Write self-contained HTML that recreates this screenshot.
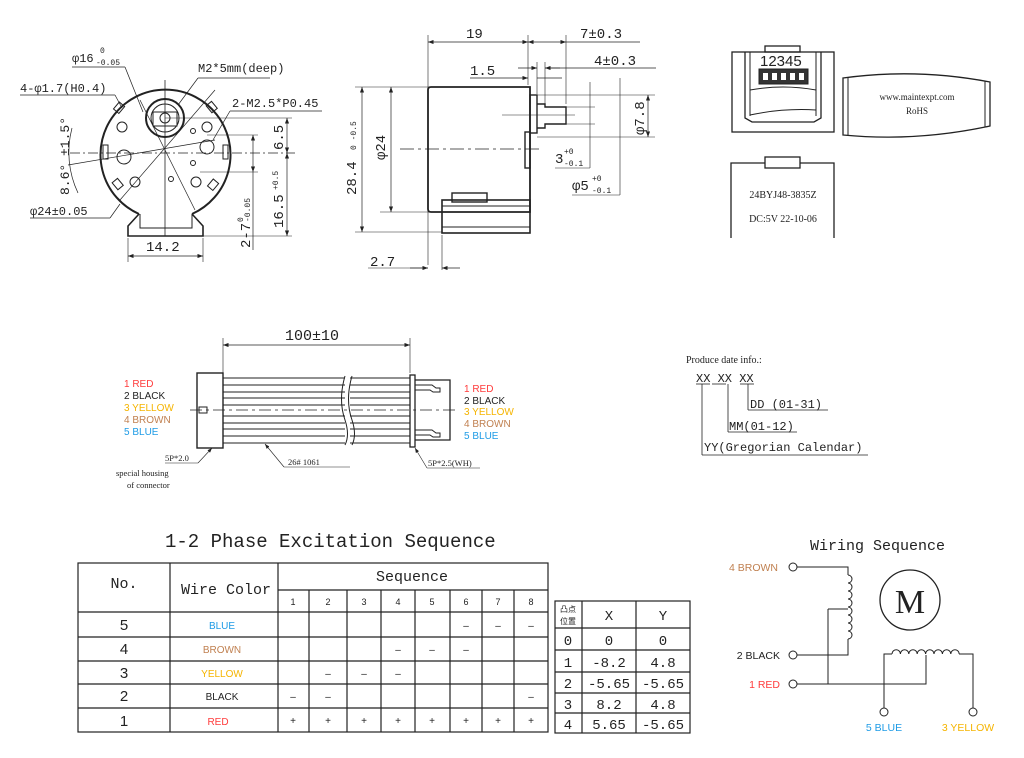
<!DOCTYPE html>
<html><head><meta charset="utf-8"><style>
html,body{margin:0;padding:0;background:#fff;}
svg{display:block;}
text{font-family:"Liberation Sans",sans-serif;fill:#222;}
.m, .m text{font-family:"Liberation Mono",monospace;}
.s, .s text{font-family:"Liberation Serif",serif;}
</style></head><body>
<svg width="1024" height="758" viewBox="0 0 1024 758" xmlns="http://www.w3.org/2000/svg">
<defs>
<marker id="a" markerWidth="8" markerHeight="6" refX="8" refY="3" orient="auto-start-reverse"><path d="M0,0 L8,3 L0,6z" fill="#222"/></marker>
</defs>
<g stroke="#222" fill="none" stroke-width="1">
<!-- FRONT VIEW -->
<path d="M139,214 A65,65 0 1 1 192,214" stroke-width="2"/>
<path d="M139,214 L128,226 L128,236 L203,236 L203,226 L192,214" stroke-width="1.6"/>
<path d="M140,214 L140,228 L192,228 L192,214"/>
<circle cx="165" cy="118" r="19" stroke-width="2"/>
<circle cx="165" cy="118" r="14"/>
<rect x="153" y="112" width="24" height="14"/>
<circle cx="165" cy="118" r="5"/>
<circle cx="122" cy="127" r="5"/><circle cx="207" cy="127" r="5"/>
<circle cx="207" cy="147" r="7"/><circle cx="124" cy="157" r="7"/>
<circle cx="135" cy="182" r="5"/><circle cx="196" cy="182" r="5"/>
<circle cx="193" cy="163" r="2.5"/><circle cx="171" cy="179" r="2.5"/><circle cx="193" cy="131" r="2.5"/>
<rect x="103" y="145" width="5" height="14"/><rect x="223" y="145" width="5" height="14"/>
<rect x="116" y="103" width="7" height="9" transform="rotate(40 119 107)"/>
<rect x="208" y="103" width="7" height="9" transform="rotate(-40 211 107)"/>
<rect x="114" y="180" width="7" height="9" transform="rotate(-40 117 184)"/>
<rect x="210" y="180" width="7" height="9" transform="rotate(40 213 184)"/>
<line x1="70" y1="153" x2="295" y2="153" stroke-dasharray="10,3,2,3" stroke-width="0.8"/>
<line x1="165" y1="80" x2="165" y2="236" stroke-width="0.8"/>
<line x1="140" y1="100" x2="195" y2="210" stroke-width="0.7"/>
<line x1="215" y1="90" x2="120" y2="200" stroke-width="0.7"/>
<line x1="68" y1="165" x2="215" y2="140" stroke-width="0.7"/>
<line x1="72" y1="67" x2="125" y2="67" stroke-width="0.7"/><line x1="125" y1="67" x2="143" y2="112" stroke-width="0.7"/>
<line x1="20" y1="95" x2="115" y2="95" stroke-width="0.7"/><line x1="115" y1="95" x2="122" y2="108" stroke-width="0.7"/>
<line x1="198" y1="78" x2="270" y2="78" stroke-width="0.7"/><line x1="198" y1="78" x2="178" y2="105" stroke-width="0.7"/>
<line x1="230" y1="111" x2="322" y2="111" stroke-width="0.7"/><line x1="230" y1="111" x2="213" y2="140" stroke-width="0.7"/>
<line x1="30" y1="218" x2="110" y2="218" stroke-width="0.7"/><line x1="110" y1="218" x2="120" y2="204" stroke-width="0.7"/>
<path d="M72,128 A95,95 0 0 0 78,193" stroke-width="0.7"/>
<line x1="165" y1="118" x2="292" y2="118" stroke-width="0.6"/>
<line x1="207" y1="135" x2="258" y2="135" stroke-width="0.6"/>
<line x1="200" y1="172" x2="258" y2="172" stroke-width="0.6"/>
<line x1="203" y1="236" x2="292" y2="236" stroke-width="0.6"/>
<line x1="287" y1="118" x2="287" y2="153" marker-start="url(#a)" marker-end="url(#a)" stroke-width="0.7"/>
<line x1="287" y1="153" x2="287" y2="236" marker-start="url(#a)" marker-end="url(#a)" stroke-width="0.7"/>
<line x1="253" y1="135" x2="253" y2="172" marker-start="url(#a)" marker-end="url(#a)" stroke-width="0.7"/>
<line x1="253" y1="172" x2="253" y2="250" stroke-width="0.7"/>
<line x1="128" y1="238" x2="128" y2="262" stroke-width="0.6"/><line x1="203" y1="238" x2="203" y2="262" stroke-width="0.6"/>
<line x1="128" y1="256" x2="203" y2="256" marker-start="url(#a)" marker-end="url(#a)" stroke-width="0.7"/>
<!-- SIDE VIEW -->
<path d="M428,90 Q428,87 431,87 L530,87 L530,212 L442,212 L431,212 Q428,212 428,209 Z" stroke-width="1.8"/>
<rect x="442" y="200" width="88" height="33" stroke-width="1.6"/>
<line x1="442" y1="206" x2="530" y2="206"/><line x1="442" y1="227" x2="530" y2="227"/>
<rect x="452" y="193" width="35" height="9" stroke-width="1.4"/>
<rect x="530" y="95" width="7" height="38" stroke-width="1.4"/>
<rect x="525" y="132" width="5" height="36" stroke-width="1.4"/>
<path d="M537,104 L545,104 L545,107 L566,107 L566,124 L545,124 L545,128 L537,128" stroke-width="1.4"/>
<line x1="400" y1="149" x2="540" y2="149" stroke-dasharray="14,4,3,4" stroke-width="0.8"/>
<line x1="502" y1="115" x2="575" y2="115" stroke-width="0.6"/>
<line x1="428" y1="35" x2="428" y2="265" stroke-width="0.6"/>
<line x1="528" y1="35" x2="528" y2="85" stroke-width="0.6"/>
<line x1="566" y1="35" x2="566" y2="104" stroke-width="0.6"/>
<line x1="537" y1="62" x2="537" y2="94" stroke-width="0.6"/>
<line x1="545" y1="62" x2="545" y2="104" stroke-width="0.6"/>
<line x1="428" y1="42" x2="528" y2="42" marker-start="url(#a)" marker-end="url(#a)" stroke-width="0.7"/>
<line x1="528" y1="42" x2="566" y2="42" marker-start="url(#a)" marker-end="url(#a)" stroke-width="0.7"/>
<line x1="566" y1="42" x2="640" y2="42" stroke-width="0.7"/>
<line x1="518" y1="68" x2="537" y2="68" marker-end="url(#a)" stroke-width="0.7"/>
<line x1="545" y1="68" x2="656" y2="68" stroke-width="0.7"/><line x1="560" y1="68" x2="545" y2="68" marker-end="url(#a)" stroke-width="0.7"/>
<line x1="470" y1="78" x2="528" y2="78" marker-end="url(#a)" stroke-width="0.7"/><line x1="537" y1="78" x2="562" y2="78" stroke-width="0.7"/>
<line x1="355" y1="87" x2="430" y2="87" stroke-width="0.6"/><line x1="355" y1="232" x2="442" y2="232" stroke-width="0.6"/>
<line x1="380" y1="212" x2="430" y2="212" stroke-width="0.6"/>
<line x1="362" y1="87" x2="362" y2="232" marker-start="url(#a)" marker-end="url(#a)" stroke-width="0.7"/>
<line x1="391" y1="87" x2="391" y2="212" marker-start="url(#a)" marker-end="url(#a)" stroke-width="0.7"/>
<line x1="537" y1="95" x2="655" y2="95" stroke-width="0.6"/><line x1="537" y1="137" x2="655" y2="137" stroke-width="0.6"/>
<line x1="566" y1="107" x2="595" y2="107" stroke-width="0.6"/><line x1="566" y1="124" x2="595" y2="124" stroke-width="0.6"/>
<line x1="648" y1="95" x2="648" y2="137" marker-start="url(#a)" marker-end="url(#a)" stroke-width="0.7"/>
<line x1="590" y1="82" x2="590" y2="168" stroke-width="0.6"/><line x1="620" y1="78" x2="620" y2="195" stroke-width="0.6"/>
<line x1="555" y1="168" x2="590" y2="168" stroke-width="0.6"/><line x1="572" y1="195" x2="620" y2="195" stroke-width="0.6"/>
<line x1="442" y1="235" x2="442" y2="270" stroke-width="0.6"/>
<line x1="410" y1="268" x2="428" y2="268" marker-end="url(#a)" stroke-width="0.7"/><line x1="460" y1="268" x2="442" y2="268" marker-end="url(#a)" stroke-width="0.7"/>
<line x1="368" y1="268" x2="428" y2="268" stroke-width="0.6"/>
<!-- CONNECTOR PICS -->
<rect x="732" y="52" width="102" height="80" stroke-width="1.3"/>
<rect x="765" y="46" width="35" height="6" stroke-width="1.3"/>
<path d="M745,52 L745,118 L752,122 L814,122 L821,118 L821,52" stroke-width="1.3"/>
<path d="M750,52 L750,116 M816,52 L816,116"/>
<rect x="759" y="69" width="49" height="15" fill="#333"/>
<g fill="#fff" stroke="none"><rect x="763" y="73" width="5" height="7"/><rect x="772" y="73" width="5" height="7"/><rect x="781" y="73" width="5" height="7"/><rect x="790" y="73" width="5" height="7"/><rect x="799" y="73" width="5" height="7"/></g>
<path d="M750,90 Q783,84 816,90 M750,115 Q783,108 816,110"/>
<path d="M843,78 Q916,68 990,82 L990,126 Q916,142 843,135 Z" stroke-width="1.3"/>
<line x1="848" y1="78" x2="848" y2="135"/><line x1="985" y1="81" x2="985" y2="127"/>
<path d="M731,238 L731,163 L765,163 M800,163 L834,163 L834,238" stroke-width="1.3"/>
<rect x="765" y="157" width="35" height="11" stroke-width="1.3"/>
<!-- CABLE -->
<rect x="197" y="373" width="26" height="75" stroke-width="1.4"/>
<rect x="199" y="407" width="8" height="6"/>
<g stroke-width="1.1">
<line x1="223" y1="378" x2="345" y2="378"/><line x1="223" y1="385" x2="345" y2="385"/><line x1="223" y1="392" x2="345" y2="392"/><line x1="223" y1="398" x2="345" y2="398"/><line x1="223" y1="405" x2="345" y2="405"/><line x1="223" y1="416" x2="345" y2="416"/><line x1="223" y1="423" x2="345" y2="423"/><line x1="223" y1="429" x2="345" y2="429"/><line x1="223" y1="436" x2="345" y2="436"/><line x1="223" y1="443" x2="345" y2="443"/>
<line x1="350" y1="378" x2="410" y2="378"/><line x1="350" y1="385" x2="410" y2="385"/><line x1="350" y1="392" x2="410" y2="392"/><line x1="350" y1="398" x2="410" y2="398"/><line x1="350" y1="405" x2="410" y2="405"/><line x1="350" y1="416" x2="410" y2="416"/><line x1="350" y1="423" x2="410" y2="423"/><line x1="350" y1="429" x2="410" y2="429"/><line x1="350" y1="436" x2="410" y2="436"/><line x1="350" y1="443" x2="410" y2="443"/>
</g>
<path d="M345,376 Q338,400 345,420 Q350,435 345,445 M352,376 Q345,400 352,420 Q357,435 352,445"/>
<line x1="190" y1="410" x2="455" y2="410" stroke-dasharray="12,4,3,4" stroke-width="0.8"/>
<rect x="410" y="375" width="5" height="72" stroke-width="1.3"/>
<path d="M415,380 L450,380 L450,440 L415,440" stroke-width="1.3"/>
<path d="M415,385 L432,385 L436,388 L440,388 L440,392 L433,392 L430,390 L415,390 M415,430 L432,430 L436,433 L440,433 L440,437 L433,437 L430,435 L415,435"/>
<line x1="223" y1="338" x2="223" y2="373" stroke-width="0.6"/><line x1="410" y1="338" x2="410" y2="373" stroke-width="0.6"/>
<line x1="223" y1="345" x2="410" y2="345" marker-start="url(#a)" marker-end="url(#a)" stroke-width="0.7"/>
<line x1="165" y1="463" x2="198" y2="463" stroke-width="0.6"/><line x1="198" y1="463" x2="212" y2="448" marker-end="url(#a)" stroke-width="0.6"/>
<line x1="284" y1="467" x2="350" y2="467" stroke-width="0.6"/><line x1="284" y1="467" x2="265" y2="444" marker-end="url(#a)" stroke-width="0.6"/>
<line x1="427" y1="468" x2="480" y2="468" stroke-width="0.6"/><line x1="427" y1="468" x2="415" y2="448" marker-end="url(#a)" stroke-width="0.6"/>
<!-- PRODUCE DATE -->
<line x1="696" y1="384" x2="710" y2="384" stroke-width="0.8"/><line x1="712" y1="384" x2="726" y2="384" stroke-width="0.8"/><line x1="740" y1="384" x2="754" y2="384" stroke-width="0.8"/>
<line x1="702" y1="384" x2="702" y2="455" stroke-width="0.8"/><line x1="702" y1="455" x2="868" y2="455" stroke-width="0.8"/>
<line x1="728" y1="384" x2="728" y2="432" stroke-width="0.8"/><line x1="728" y1="432" x2="797" y2="432" stroke-width="0.8"/>
<line x1="748" y1="384" x2="748" y2="410" stroke-width="0.8"/><line x1="748" y1="410" x2="828" y2="410" stroke-width="0.8"/>
<!-- MAIN TABLE -->
<g stroke-width="1.2">
<rect x="78" y="563" width="470" height="169"/>
<line x1="78" y1="612" x2="548" y2="612"/><line x1="78" y1="637" x2="548" y2="637"/><line x1="78" y1="661" x2="548" y2="661"/><line x1="78" y1="684" x2="548" y2="684"/><line x1="78" y1="708" x2="548" y2="708"/>
<line x1="278" y1="590" x2="548" y2="590"/>
<line x1="170" y1="563" x2="170" y2="732"/><line x1="278" y1="563" x2="278" y2="732"/>
<line x1="309" y1="590" x2="309" y2="732"/><line x1="347" y1="590" x2="347" y2="732"/><line x1="381" y1="590" x2="381" y2="732"/><line x1="415" y1="590" x2="415" y2="732"/><line x1="450" y1="590" x2="450" y2="732"/><line x1="482" y1="590" x2="482" y2="732"/><line x1="514" y1="590" x2="514" y2="732"/>
</g>
<!-- SMALL TABLE -->
<g stroke-width="1.2">
<rect x="555" y="601" width="135" height="132"/>
<line x1="555" y1="628" x2="690" y2="628"/><line x1="555" y1="650" x2="690" y2="650"/><line x1="555" y1="672" x2="690" y2="672"/><line x1="555" y1="693" x2="690" y2="693"/><line x1="555" y1="713" x2="690" y2="713"/>
<line x1="582" y1="601" x2="582" y2="733"/><line x1="636" y1="601" x2="636" y2="733"/>
</g>
<!-- WIRING -->
<g stroke-width="1">
<circle cx="793" cy="567" r="4"/><circle cx="793" cy="655" r="4"/><circle cx="793" cy="684" r="4"/>
<circle cx="884" cy="712" r="4"/><circle cx="973" cy="712" r="4"/>
<path d="M797,567 L848,567 L848,575"/>
<path d="M848,575 a4,4 0 0 1 0,8 a4,4 0 0 1 0,8 a4,4 0 0 1 0,8 a4,4 0 0 1 0,8 a4,4 0 0 1 0,8 a4,4 0 0 1 0,8 a4,4 0 0 1 0,8 a4,4 0 0 1 0,8"/>
<path d="M848,639 L848,655 L797,655"/>
<path d="M828,609 L848,609 M828,609 L828,684"/>
<path d="M797,684 L926,684 L926,655"/>
<path d="M884,708 L884,654 L892,654"/>
<path d="M892,654 a4.2,4.2 0 0 1 8.4,0 a4.2,4.2 0 0 1 8.4,0 a4.2,4.2 0 0 1 8.4,0 a4.2,4.2 0 0 1 8.4,0 a4.2,4.2 0 0 1 8.4,0 a4.2,4.2 0 0 1 8.4,0 a4.2,4.2 0 0 1 8.4,0 a4.2,4.2 0 0 1 8.4,0"/>
<path d="M959,654 L973,654 L973,708"/>
<circle cx="910" cy="600" r="30" stroke-width="1.3"/>
</g>
</g>
<!-- TEXT -->
<g class="m" font-size="12">
<text x="72" y="62">φ16</text><text x="100" y="53" font-size="8">0</text><text x="96" y="65" font-size="8">-0.05</text>
<text x="20" y="92">4-φ1.7(H0.4)</text>
<text x="198" y="72">M2*5mm(deep)</text>
<text x="232" y="107">2-M2.5*P0.45</text>
<text x="30" y="215">φ24±0.05</text>
<text x="146" y="251" font-size="14">14.2</text>
<text transform="translate(69,195) rotate(-90)" font-size="13">8.6° ±1.5°</text>
<text transform="translate(283,150) rotate(-90)" font-size="14">6.5</text>
<text transform="translate(283,228) rotate(-90)" font-size="14">16.5</text>
<text transform="translate(278,190) rotate(-90)" font-size="8">+0.5</text>
<text transform="translate(250,248) rotate(-90)" font-size="14">2-7</text>
<text transform="translate(243,222) rotate(-90)" font-size="8">0</text>
<text transform="translate(250,222) rotate(-90)" font-size="8">-0.05</text>
<text x="466" y="38" font-size="14">19</text>
<text x="580" y="38" font-size="14">7±0.3</text>
<text x="594" y="65" font-size="14">4±0.3</text>
<text x="470" y="75" font-size="14">1.5</text>
<text transform="translate(644,135) rotate(-90)" font-size="14">φ7.8</text>
<text transform="translate(356,195) rotate(-90)" font-size="14">28.4</text>
<text transform="translate(356,150) rotate(-90)" font-size="8">0 -0.5</text>
<text transform="translate(385,160) rotate(-90)" font-size="14">φ24</text>
<text x="555" y="163" font-size="14">3</text><text x="564" y="154" font-size="8">+0</text><text x="564" y="166" font-size="8">-0.1</text>
<text x="572" y="190" font-size="14">φ5</text><text x="592" y="181" font-size="8">+0</text><text x="592" y="193" font-size="8">-0.1</text>
<text x="370" y="266" font-size="14">2.7</text>
<text x="285" y="340" font-size="15">100±10</text>
</g>
<text x="760" y="66" font-size="15">12345</text>
<g class="s">
<text x="917" y="100" text-anchor="middle" font-size="9">www.maintexpt.com</text>
<text x="917" y="114" text-anchor="middle" font-size="9">RoHS</text>
<text x="783" y="198" text-anchor="middle" font-size="10">24BYJ48-3835Z</text>
<text x="783" y="222" text-anchor="middle" font-size="10">DC:5V 22-10-06</text>
</g>
<g font-size="10">
<text x="124" y="387" style="fill:#ff3b3b">1 RED</text>
<text x="124" y="399">2 BLACK</text>
<text x="124" y="411" style="fill:#f5b400">3 YELLOW</text>
<text x="124" y="423" style="fill:#c08050">4 BROWN</text>
<text x="124" y="435" style="fill:#1e9be6">5 BLUE</text>
<text x="464" y="392" style="fill:#ff3b3b">1 RED</text>
<text x="464" y="404">2 BLACK</text>
<text x="464" y="415" style="fill:#f5b400">3 YELLOW</text>
<text x="464" y="427" style="fill:#c08050">4 BROWN</text>
<text x="464" y="439" style="fill:#1e9be6">5 BLUE</text>
</g>
<g class="s" font-size="8.5">
<text x="165" y="461">5P*2.0</text>
<text x="116" y="476">special housing</text>
<text x="127" y="488">of connector</text>
<text x="288" y="465">26# 1061</text>
<text x="428" y="466">5P*2.5(WH)</text>
<text x="686" y="363" font-size="10">Produce date info.:</text>
</g>
<g class="m" font-size="12">
<text x="696" y="382">XX XX XX</text>
<text x="750" y="408">DD (01-31)</text>
<text x="729" y="430">MM(01-12)</text>
<text x="704" y="451">YY(Gregorian Calendar)</text>
<text x="165" y="547" font-size="19">1-2 Phase Excitation Sequence</text>
<text x="810" y="550" font-size="15">Wiring Sequence</text>
<text x="124" y="588" text-anchor="middle" font-size="15">No.</text>
<text x="226" y="594" text-anchor="middle" font-size="15">Wire Color</text>
<text x="412" y="581" text-anchor="middle" font-size="15">Sequence</text>
</g>
<g font-size="9" text-anchor="middle">
<text x="293" y="605">1</text><text x="328" y="605">2</text><text x="364" y="605">3</text><text x="398" y="605">4</text><text x="432" y="605">5</text><text x="466" y="605">6</text><text x="498" y="605">7</text><text x="531" y="605">8</text>
</g>
<g font-size="15" text-anchor="middle">
<text x="124" y="630">5</text><text x="124" y="654">4</text><text x="124" y="678">3</text><text x="124" y="701">2</text><text x="124" y="726">1</text>
</g>
<g font-size="10" text-anchor="middle">
<text x="222" y="629" style="fill:#1e9be6">BLUE</text>
<text x="222" y="653" style="fill:#c08050">BROWN</text>
<text x="222" y="677" style="fill:#f5b400">YELLOW</text>
<text x="222" y="700">BLACK</text>
<text x="218" y="725" style="fill:#ff3b3b">RED</text>
<text x="466" y="629">–</text><text x="498" y="629">–</text><text x="531" y="629">–</text>
<text x="398" y="653">–</text><text x="432" y="653">–</text><text x="466" y="653">–</text>
<text x="328" y="677">–</text><text x="364" y="677">–</text><text x="398" y="677">–</text>
<text x="293" y="700">–</text><text x="328" y="700">–</text><text x="531" y="700">–</text>
<text x="293" y="724">+</text><text x="328" y="724">+</text><text x="364" y="724">+</text><text x="398" y="724">+</text><text x="432" y="724">+</text><text x="466" y="724">+</text><text x="498" y="724">+</text><text x="531" y="724">+</text>
</g>
<text x="568" y="612" font-size="8" text-anchor="middle" style="font-family:'Noto Sans CJK SC',sans-serif">凸点</text>
<text x="568" y="624" font-size="8" text-anchor="middle" style="font-family:'Noto Sans CJK SC',sans-serif">位置</text>
<g text-anchor="middle" class="m" font-size="14">
<text x="609" y="620">X</text><text x="663" y="620">Y</text>
<text x="568" y="645">0</text><text x="609" y="645">0</text><text x="663" y="645">0</text>
<text x="568" y="667">1</text><text x="609" y="667">-8.2</text><text x="663" y="667">4.8</text>
<text x="568" y="688">2</text><text x="609" y="688">-5.65</text><text x="663" y="688">-5.65</text>
<text x="568" y="709">3</text><text x="609" y="709">8.2</text><text x="663" y="709">4.8</text>
<text x="568" y="729">4</text><text x="609" y="729">5.65</text><text x="663" y="729">-5.65</text>
</g>
<g font-size="10.5">
<text x="778" y="571" text-anchor="end" style="fill:#c08050">4 BROWN</text>
<text x="780" y="659" text-anchor="end">2 BLACK</text>
<text x="780" y="688" text-anchor="end" style="fill:#ff3b3b">1 RED</text>
<text x="884" y="731" text-anchor="middle" style="fill:#1e9be6">5 BLUE</text>
<text x="968" y="731" text-anchor="middle" style="fill:#f5b400">3 YELLOW</text>
</g>
<text x="910" y="613" text-anchor="middle" class="s" font-size="34">M</text>
</svg>
</body></html>
